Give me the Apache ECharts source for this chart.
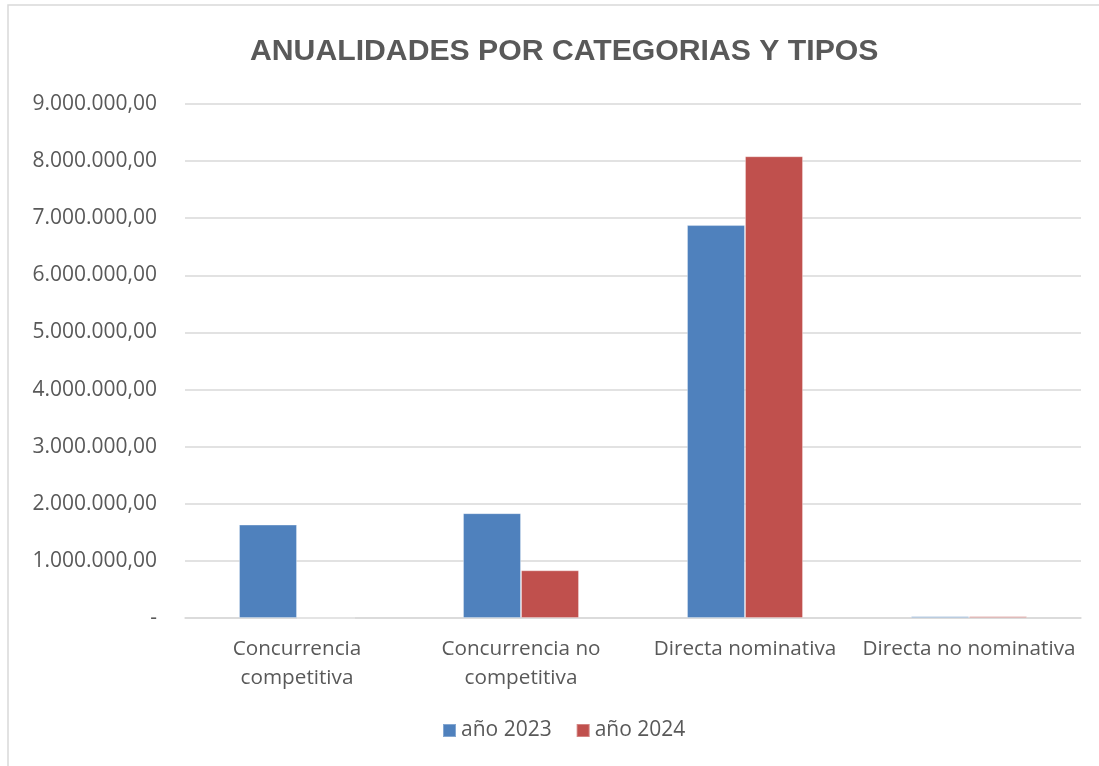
<!DOCTYPE html>
<html>
<head>
<meta charset="utf-8">
<script src="https://cdn.jsdelivr.net/npm/echarts@6/dist/echarts.min.js"></script>
<style>
  html, body { margin: 0; padding: 0; background: #fff; }
  #chart { width: 1099px; height: 766px; }
</style>
</head>
<body>
<div id="chart"></div>
<script>
  var categorias = ['Concurrencia\ncompetitiva', 'Concurrencia no\ncompetitiva', 'Directa nominativa', 'Directa no nominativa']
  var serieNombres = ['año 2023', 'año 2024']
  var valores2023 = [1635000, 1835000, 6880000, 30000]
  var valores2024 = [0, 835000, 8085000, 30000]
  var colores = ['#4f81bd', '#c0504d']

  function formatoEuro (v) {
    if (v === 0) return '-'
    var entero = Math.round(v).toString().replace(/\B(?=(\d{3})+(?!\d))/g, '.')
    return entero + ',00'
  }

  var chart = echarts.init(document.getElementById('chart'))
  var option = {
    animation: false,
    textStyle: { fontFamily: 'Open Sans' },
    color: colores,
    title: {
      text: 'ANUALIDADES POR CATEGORIAS Y TIPOS',
      left: 245,
      top: 32,
      textStyle: { fontSize: 30.2, fontWeight: 'bold', color: '#595959', fontFamily: 'Liberation Sans' }
    },
    graphic: [{
      type: 'rect',
      shape: { x: 8, y: 5, width: 1100, height: 800 },
      style: { fill: 'none', stroke: '#d9d9d9', lineWidth: 1.5 },
      silent: true
    }],
    legend: {
      bottom: 20,
      left: 437,
      itemWidth: 13,
      itemHeight: 13,
      itemGap: 24,
      icon: 'rect',
      textStyle: { fontSize: 21, color: '#595959' },
      data: serieNombres
    },
    grid: { left: 185, right: 18, top: 104, bottom: 148 },
    xAxis: {
      type: 'category',
      data: categorias,
      axisTick: { show: false },
      axisLine: { lineStyle: { color: '#d9d9d9', width: 1.5 } },
      axisLabel: { interval: 0, fontSize: 20.7, color: '#595959', margin: 17, lineHeight: 29 }
    },
    yAxis: {
      type: 'value',
      min: 0,
      max: 9000000,
      interval: 1000000,
      axisLine: { show: false },
      axisTick: { show: false },
      splitLine: { lineStyle: { color: '#d9d9d9', width: 1.5 } },
      axisLabel: { fontSize: 21, color: '#595959', margin: 28, formatter: formatoEuro }
    },
    series: [
      {
        name: serieNombres[0],
        type: 'bar',
        barWidth: 58,
        barGap: '0%',
        data: valores2023,
        itemStyle: { borderColor: 'rgba(255,255,255,0.3)', borderWidth: 1 }
      },
      {
        name: serieNombres[1],
        type: 'bar',
        barWidth: 58,
        barGap: '0%',
        data: valores2024,
        itemStyle: { borderColor: 'rgba(255,255,255,0.3)', borderWidth: 1 }
      }
    ]
  }
  chart.setOption(option)
</script>
</body>
</html>
